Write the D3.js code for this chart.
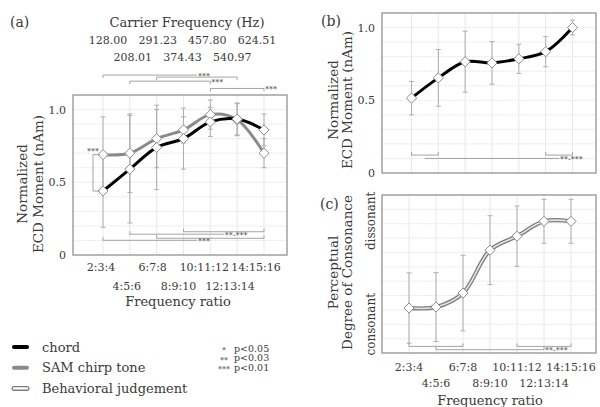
<!DOCTYPE html>
<html>
<head>
<meta charset="utf-8">
<script src="https://cdn.jsdelivr.net/npm/d3@7"></script>
<style>
  body { margin: 0; background: #fff; }
  text { font-family: 'DejaVu Serif', serif; fill: #3a3a3a; }
</style>
</head>
<body>
<svg id="chart" width="600" height="407"></svg>
<script>
// frequency ratios and carrier frequencies
let ratios = ['2:3:4', '4:5:6', '6:7:8', '8:9:10', '10:11:12', '12:13:14', '14:15:16']
let carriers = ['128.00', '208.01', '291.23', '374.43', '457.80', '540.97', '624.51']

// (a) chord vs SAM chirp tone
let chordA = [0.44, 0.59, 0.74, 0.80, 0.915, 0.935, 0.86]
let chordAErr = [0.25, 0.37, 0.29, 0.21, 0.10, 0.11, 0.11]
let samA = [0.69, 0.70, 0.80, 0.86, 0.965, 0.93, 0.70]
let samAErr = [0.26, 0.27, 0.20, 0.09, 0.10, 0.11, 0.10]

// (b) chord
let chordB = [0.515, 0.654, 0.765, 0.757, 0.785, 0.834, 1.0]
let chordBErr = [0.115, 0.195, 0.21, 0.147, 0.10, 0.104, 0.05]

// (c) behavioral judgement
let behavC = [0.313, 0.32, 0.417, 0.716, 0.813, 0.917, 0.917]
let behavCErr = [0.245, 0.24, 0.263, 0.24, 0.21, 0.153, 0.153]

let yTicks = [0, 0.5, 1.0]

// significance brackets: from / to are ratio indexes, v is the level
let bracketsA = [
  {from: 0, to: 3.5, v: 1.237, label: '***', dir: 1},
  {from: 2, to: 5, v: 1.223, label: '', dir: 1},
  {from: 1, to: 4, v: 1.195, label: '***', dir: 1},
  {from: 4, to: 6, v: 1.145, label: '***', dir: 1},
  {from: 3, to: 6, v: 0.16, label: '', dir: -1},
  {from: 1, to: 4.5, v: 0.143, label: '**-***', dir: -1},
  {from: 2, to: 6, v: 0.115, label: '', dir: -1},
  {from: 0, to: 3.5, v: 0.101, label: '***', dir: -1}
]
let bracketsB = [
  {from: 0, to: 1, v: 0.123, label: '', dir: -1},
  {from: 0.5, to: 5.5, v: 0.10, label: '**-***', dir: -1},
  {from: 5, to: 6, v: 0.123, label: '', dir: -1}
]
let bracketsC = [
  {from: 0, to: 2, v: 0.046, label: '', dir: -1},
  {from: 1, to: 5, v: 0.023, label: '**-***', dir: -1},
  {from: 4, to: 6, v: 0.046, label: '', dir: -1}
]

let legendLines = ['chord', 'SAM chirp tone', 'Behavioral judgement']
let sigStars = ['*', '**', '***']
let sigLevels = ['p<0.05', 'p<0.03', 'p<0.01']

let svg = d3.select('#chart')
let gray = '#8a8a8a'

let makePanel = (box, xr) => {
  let x = d3.scaleLinear().domain([0, ratios.length - 1]).range(xr)
  let y = d3.scaleLinear().domain([0, 1.1]).range([box.y1, box.y0])
  let g = svg.append('g')

  g.selectAll('.hgrid')
    .data(d3.range(1, 11).map(d => d / 10))
    .enter()
    .append('line')
    .attr('x1', box.x0).attr('x2', box.x1)
    .attr('y1', d => y(d)).attr('y2', d => y(d))
    .attr('stroke', '#e2e2e2')
    .attr('stroke-width', 0.8)
    .attr('stroke-dasharray', '2,1')

  g.selectAll('.vgrid')
    .data(ratios)
    .enter()
    .append('line')
    .attr('x1', (d, i) => x(i)).attr('x2', (d, i) => x(i))
    .attr('y1', box.y0).attr('y2', box.y1)
    .attr('stroke', '#e2e2e2')
    .attr('stroke-width', 0.8)

  g.append('rect')
    .attr('x', box.x0).attr('y', box.y0)
    .attr('width', box.x1 - box.x0).attr('height', box.y1 - box.y0)
    .attr('fill', 'none')
    .attr('stroke', '#9a9a9a')
    .attr('stroke-width', 1.4)

  return {g: g, x: x, y: y, box: box}
}

let drawYAxis = (p) => {
  let axis = d3.axisLeft(p.y)
    .tickValues(yTicks)
    .tickSize(0)
    .tickPadding(7)
    .tickFormat(d => d === 0 ? '0' : d3.format('.1f')(d))
  let a = p.g.append('g')
    .attr('transform', 'translate(' + p.box.x0 + ',0)')
    .call(axis)
  a.select('.domain').remove()
  a.selectAll('text')
    .style('font-family', "'DejaVu Serif', serif")
    .style('font-size', '11px')
    .attr('fill', '#3a3a3a')
}

let drawErrors = (p, vals, errs) => {
  let g = p.g.append('g')
  vals.forEach((v, i) => {
    let xi = p.x(i)
    let top = p.y(v + errs[i])
    let bot = p.y(v - errs[i])
    g.append('line').attr('x1', xi).attr('x2', xi).attr('y1', top).attr('y2', bot)
      .attr('stroke', '#a8a8a8').attr('stroke-width', 0.9)
    ;[top, bot].forEach(yy => {
      g.append('line').attr('x1', xi - 2.5).attr('x2', xi + 2.5).attr('y1', yy).attr('y2', yy)
        .attr('stroke', '#a8a8a8').attr('stroke-width', 0.9)
    })
  })
}

let drawLine = (p, vals, style) => {
  let line = d3.line()
    .x((d, i) => p.x(i))
    .y(d => p.y(d))
    .curve(d3.curveCatmullRom.alpha(0.5))
  if (style === 'behav') {
    p.g.append('path').datum(vals).attr('d', line)
      .attr('fill', 'none').attr('stroke', '#7c7c7c').attr('stroke-width', 4.2)
    p.g.append('path').datum(vals).attr('d', line)
      .attr('fill', 'none').attr('stroke', '#e4e4e4').attr('stroke-width', 1.6)
  } else {
    p.g.append('path').datum(vals).attr('d', line)
      .attr('fill', 'none')
      .attr('stroke', style === 'chord' ? '#000' : gray)
      .attr('stroke-width', 3)
  }
}

let drawDiamonds = (p, vals) => {
  p.g.selectAll(null)
    .data(vals)
    .enter()
    .append('path')
    .attr('d', d3.symbol(d3.symbolDiamond2, 66))
    .attr('transform', (d, i) => 'translate(' + p.x(i) + ',' + p.y(d) + ')')
    .attr('fill', '#fff')
    .attr('stroke', '#8a8a8a')
    .attr('stroke-width', 1)
}

let drawBrackets = (p, list) => {
  let g = p.g.append('g')
  list.forEach(b => {
    let yy = p.y(b.v)
    let x1 = p.x(b.from)
    let x2 = p.x(b.to)
    g.append('line').attr('x1', x1).attr('x2', x2).attr('y1', yy).attr('y2', yy)
      .attr('stroke', '#9a9a9a').attr('stroke-width', 0.9)
    ;[b.from, b.to].filter(t => Number.isInteger(t)).forEach(t => {
      g.append('line').attr('x1', p.x(t)).attr('x2', p.x(t))
        .attr('y1', yy).attr('y2', yy + 3 * b.dir)
        .attr('stroke', '#9a9a9a').attr('stroke-width', 0.9)
    })
    if (b.label) {
      g.append('text').attr('x', x2 + 1).attr('y', yy + 3.5)
        .style('font-size', '8px').attr('fill', '#888')
        .text(b.label)
    }
  })
}

let rotatedTitle = (lines, cx, cy, gap) => {
  lines.forEach((t, i) => {
    svg.append('text')
      .attr('transform', 'translate(' + (cx + i * gap) + ',' + cy + ') rotate(-90)')
      .attr('text-anchor', 'middle')
      .attr('dy', '0.35em')
      .style('font-size', '13.5px')
      .text(t)
  })
}

let staggerLabels = (labels, xs, y1, y2, size) => {
  labels.forEach((t, i) => {
    svg.append('text')
      .attr('x', xs(i))
      .attr('y', i % 2 === 0 ? y1 : y2)
      .attr('dy', '0.35em')
      .attr('text-anchor', 'middle')
      .style('font-size', size)
      .text(t)
  })
}

// ---------- panel (a) ----------
let pa = makePanel({x0: 73, x1: 287, y0: 95, y1: 255}, [103, 264])
drawYAxis(pa)
drawErrors(pa, samA, samAErr)
drawErrors(pa, chordA, chordAErr)
drawLine(pa, samA, 'sam')
drawLine(pa, chordA, 'chord')
drawDiamonds(pa, samA)
drawDiamonds(pa, chordA)
drawBrackets(pa, bracketsA)

// chord vs SAM at 2:3:4
let vx = pa.x(0) - 10
pa.g.append('path')
  .attr('d', 'M' + (vx + 7) + ',' + pa.y(samA[0]) + 'H' + vx + 'V' + pa.y(chordA[0]) + 'H' + (vx + 7))
  .attr('fill', 'none').attr('stroke', '#9a9a9a').attr('stroke-width', 0.9)
pa.g.append('text').attr('x', vx - 6).attr('y', pa.y(samA[0]) - 1)
  .style('font-size', '8px').attr('fill', '#888').text('***')

svg.append('text').attr('x', 10).attr('y', 22).attr('dy', '0.35em')
  .style('font-size', '14px').text('(a)')
svg.append('text').attr('x', 187).attr('y', 22).attr('dy', '0.35em')
  .attr('text-anchor', 'middle').style('font-size', '13px').text('Carrier Frequency (Hz)')
staggerLabels(carriers, d3.scaleLinear().domain([0, 6]).range([108, 257]), 40, 57, '11px')
staggerLabels(ratios, d3.scaleLinear().domain([0, 6]).range([101, 256]), 267, 286, '11px')
svg.append('text').attr('x', 178).attr('y', 301).attr('dy', '0.35em')
  .attr('text-anchor', 'middle').style('font-size', '13px').text('Frequency ratio')
rotatedTitle(['Normalized', 'ECD Moment (nAm)'], 22, 184, 16)

// ---------- panel (b) ----------
let pb = makePanel({x0: 382, x1: 596, y0: 13, y1: 173}, [411.5, 572.5])
drawYAxis(pb)
drawErrors(pb, chordB, chordBErr)
drawLine(pb, chordB, 'chord')
drawDiamonds(pb, chordB)
drawBrackets(pb, bracketsB)
svg.append('text').attr('x', 321).attr('y', 21).attr('dy', '0.35em')
  .style('font-size', '14px').text('(b)')
rotatedTitle(['Normalized', 'ECD Moment (nAm)'], 333.5, 100, 13.5)

// ---------- panel (c) ----------
let pc = makePanel({x0: 382, x1: 596, y0: 195, y1: 353}, [409, 571])
drawErrors(pc, behavC, behavCErr)
drawLine(pc, behavC, 'behav')
drawDiamonds(pc, behavC)
drawBrackets(pc, bracketsC)
svg.append('text').attr('x', 320).attr('y', 204).attr('dy', '0.35em')
  .style('font-size', '14px').text('(c)')
rotatedTitle(['Perceptual', 'Degree of Consonance'], 333.5, 272.5, 13.5)
;[['consonant', 0.2], ['dissonant', 0.92]].forEach(d => {
  svg.append('text')
    .attr('transform', 'translate(371,' + pc.y(d[1]) + ') rotate(-90)')
    .attr('text-anchor', 'middle').attr('dy', '0.35em')
    .style('font-size', '12px').text(d[0])
})
staggerLabels(ratios, pc.x, 367, 383, '11px')
svg.append('text').attr('x', 490).attr('y', 400).attr('dy', '0.35em')
  .attr('text-anchor', 'middle').style('font-size', '13px').text('Frequency ratio')

// ---------- legends ----------
let legend = svg.append('g')
legendLines.forEach((name, i) => {
  let yy = 347 + i * 20.7
  if (i === 2) {
    legend.append('line').attr('x1', 14).attr('x2', 27).attr('y1', yy).attr('y2', yy)
      .attr('stroke', '#7c7c7c').attr('stroke-width', 5).attr('stroke-linecap', 'round')
    legend.append('line').attr('x1', 14).attr('x2', 27).attr('y1', yy).attr('y2', yy)
      .attr('stroke', '#fff').attr('stroke-width', 2.4).attr('stroke-linecap', 'round')
  } else {
    legend.append('line').attr('x1', 14).attr('x2', 27).attr('y1', yy).attr('y2', yy)
      .attr('stroke', i === 0 ? '#000' : gray).attr('stroke-width', 4).attr('stroke-linecap', 'round')
  }
  legend.append('text').attr('x', 42).attr('y', yy).attr('dy', '0.35em')
    .style('font-size', '13px').text(name)
})
sigLevels.forEach((t, i) => {
  let yy = 348.5 + i * 9.5
  legend.append('text').attr('x', 224).attr('y', yy + 2).attr('dy', '0.35em')
    .attr('text-anchor', 'middle').style('font-size', '8px').attr('fill', '#777').text(sigStars[i])
  legend.append('text').attr('x', 234).attr('y', yy).attr('dy', '0.35em')
    .style('font-size', '9.5px').text(t)
})
</script>
</body>
</html>
